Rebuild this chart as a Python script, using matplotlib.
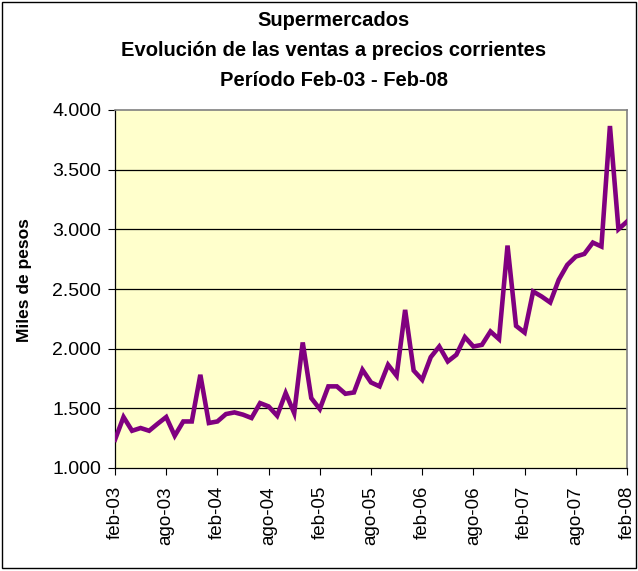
import matplotlib
matplotlib.use("Agg")
import matplotlib.pyplot as plt
from matplotlib.patches import Rectangle
from matplotlib.ticker import FuncFormatter

plt.rcParams['font.family'] = ['Liberation Sans', 'DejaVu Sans']

# Ventas mensuales feb-03 .. feb-08 (miles de pesos)
ventas = [
    1237, 1427, 1312, 1335, 1312, 1371, 1427, 1270, 1390, 1390,
    1781, 1377, 1390, 1452, 1466, 1447, 1419, 1544, 1516, 1438,
    1628, 1460, 2052, 1586, 1494, 1684, 1684, 1622, 1633, 1823,
    1717, 1684, 1865, 1773, 2325, 1817, 1739, 1929, 2018, 1893,
    1949, 2097, 2018, 2032, 2144, 2080, 2864, 2191, 2135, 2479,
    2437, 2387, 2577, 2702, 2772, 2794, 2889, 2856, 3866, 3001,
    3065,
]
meses = list(range(len(ventas)))
etiquetas_x = ["feb-03", "ago-03", "feb-04", "ago-04", "feb-05", "ago-05",
               "feb-06", "ago-06", "feb-07", "ago-07", "feb-08"]
ticks_y = [1000, 1500, 2000, 2500, 3000, 3500, 4000]

W, H = 638, 571
fig = plt.figure(figsize=(W / 100, H / 100), dpi=100)
ax = fig.add_axes([115 / W, 1 - 468 / H, (627 - 115) / W, (468 - 110) / H])

ax.set_facecolor('#FFFFCC')
ax.plot(meses, ventas, color='#800080', linewidth=3.3, solid_joinstyle='miter', zorder=3)

ax.set_xlim(0, 60)
ax.set_ylim(1000, 4000)
ax.set_yticks(ticks_y)
ax.yaxis.set_major_formatter(FuncFormatter(lambda v, p: f"{int(v):,}".replace(",", ".")))
ax.set_xticks(range(0, 61, 6))
ax.set_xticklabels(etiquetas_x, rotation=90, fontsize=13.5)
ax.tick_params(axis='y', labelsize=14, direction='out', length=5, width=0.8, pad=5)
ax.tick_params(axis='x', direction='out', length=5, width=0.8, pad=8)

for v in ticks_y[1:-1]:
    ax.axhline(v, color='black', linewidth=0.9, zorder=2)

for side in ['top', 'right']:
    ax.spines[side].set_color('#808080')
    ax.spines[side].set_linewidth(1.2)
for side in ['left', 'bottom']:
    ax.spines[side].set_color('black')
    ax.spines[side].set_linewidth(0.9)

ax.set_ylabel('Miles de pesos', fontsize=12.5, fontweight='bold')
ax.yaxis.set_label_coords((32 - 115) / (627 - 115), 0.525)

cx = 334 / W
fig.text(cx, 1 - 21 / H, 'Supermercados',
         ha='center', va='center', fontsize=14.5, fontweight='bold')
fig.text(cx, 1 - 51 / H, 'Evolución de las ventas a precios corrientes',
         ha='center', va='center', fontsize=14.5, fontweight='bold')
fig.text(cx, 1 - 81 / H, 'Período Feb-03 - Feb-08',
         ha='center', va='center', fontsize=14.5, fontweight='bold')

# borde exterior del gráfico
fig.patches.append(Rectangle((1.5 / W, 3 / H), (W - 4) / W, (H - 5) / H,
                             transform=fig.transFigure, fill=False,
                             edgecolor='black', linewidth=1.0))

fig.savefig('out.png', dpi=100)
